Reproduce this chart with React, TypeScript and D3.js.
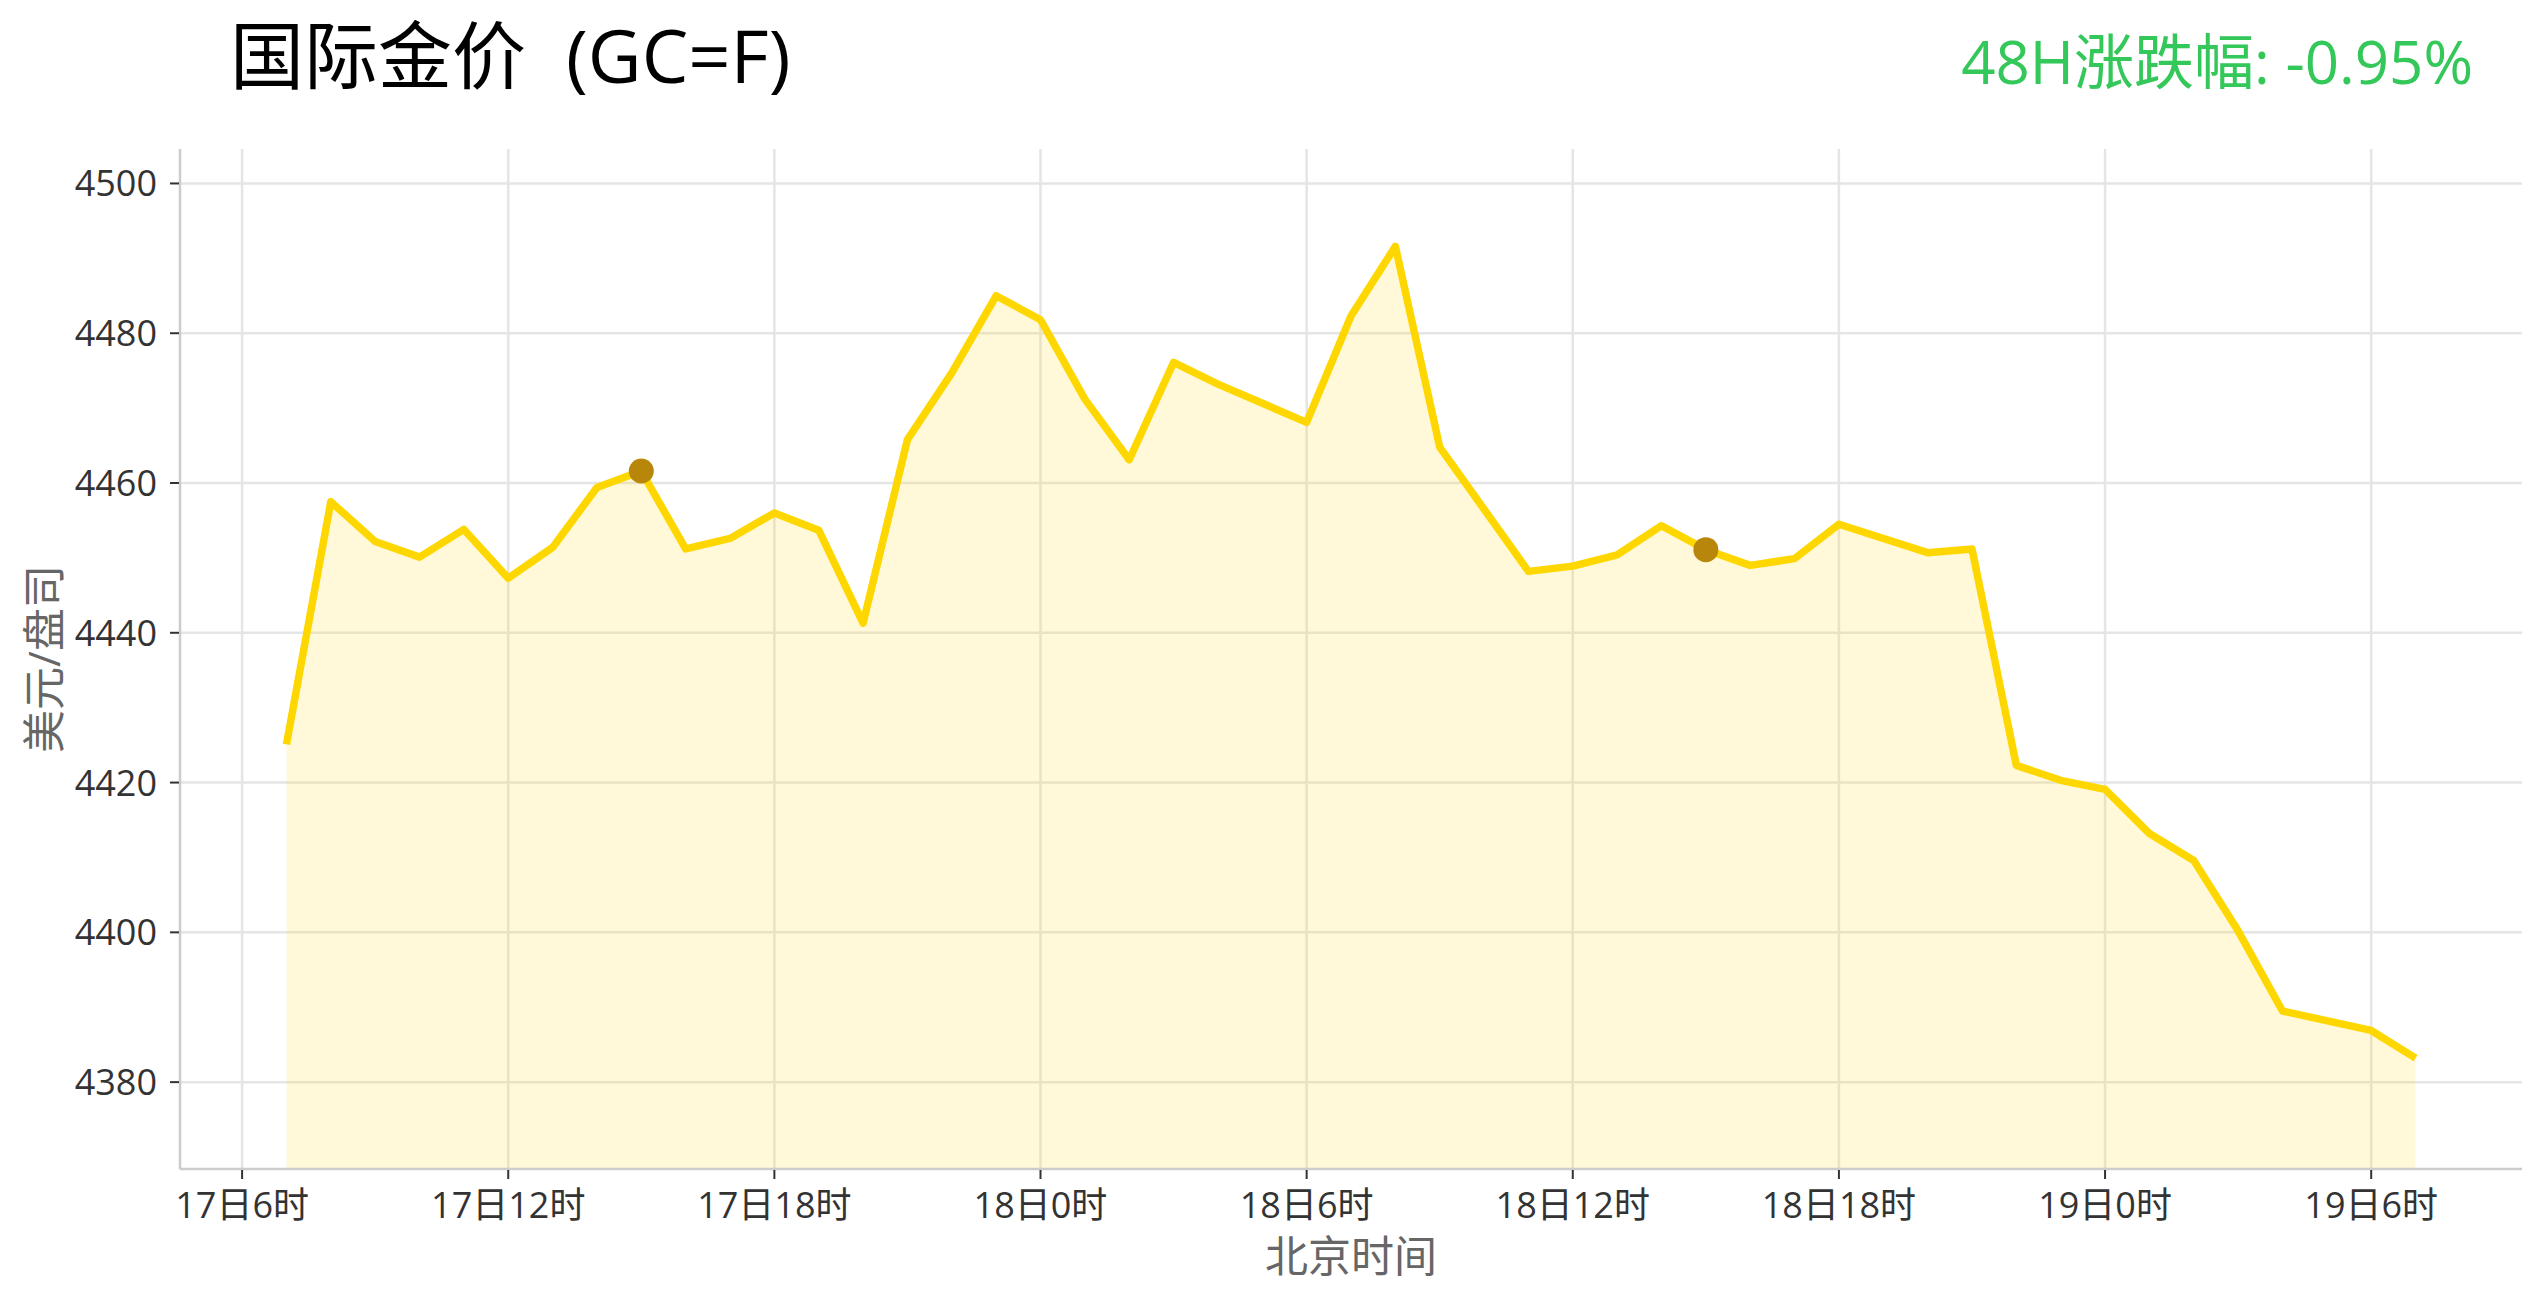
import React, { useEffect, useRef } from 'react';
import * as d3 from 'd3';

// hourly prices, Beijing time ("day hour")
const times = [
  '17 07', '17 08', '17 09', '17 10', '17 11', '17 12', '17 13', '17 14', '17 15', '17 16',
  '17 17', '17 18', '17 19', '17 20', '17 21', '17 22', '17 23', '18 00', '18 01', '18 02',
  '18 03', '18 04', '18 06', '18 07', '18 08', '18 09', '18 11', '18 12', '18 13', '18 14',
  '18 15', '18 16', '18 17', '18 18', '18 20', '18 21', '18 22', '18 23', '19 00', '19 01',
  '19 02', '19 03', '19 04', '19 06', '19 07'
];
const prices = [
  4425.1, 4457.5, 4452.2, 4450.1, 4453.8, 4447.3, 4451.4, 4459.4, 4461.6, 4451.2,
  4452.6, 4456.0, 4453.7, 4441.3, 4465.8, 4474.7, 4485.0, 4481.8, 4471.2, 4463.1,
  4476.1, 4473.2, 4468.1, 4482.3, 4491.6, 4464.8, 4448.2, 4448.9, 4450.4, 4454.3,
  4451.1, 4449.0, 4449.9, 4454.5, 4450.7, 4451.2, 4422.3, 4420.3, 4419.1, 4413.2,
  4409.6, 4400.2, 4389.5, 4386.9, 4383.2
];
const markerTimes = ['17 15', '18 15'];
const xTickTimes = ['17 06', '17 12', '17 18', '18 00', '18 06', '18 12', '18 18', '19 00', '19 06'];
const yTicks = [4380, 4400, 4420, 4440, 4460, 4480, 4500];
const xDomainTimes = ['17 04:36', '19 09:24'];
const yDomain = [4368.4, 4504.6];

const titleMain = '国际金价';
const titleCode = '(GC=F)';
const changeLabel = '48H涨跌幅: -0.95%';
const xLabel = '北京时间';
const yLabel = '美元/盘司';

const W = 2541;
const H = 1302;
const FONT = '"Open Sans", "Noto Sans CJK SC", sans-serif';

export default function App() {
  const svgRef = useRef<SVGSVGElement>(null);

  useEffect(() => {
    if (!svgRef.current) return;
    const svg = d3.select(svgRef.current);
    svg.selectAll('*').remove();

    const margin = { top: 149, right: W - 2522, bottom: H - 1169, left: 180 };
    const innerWidth = W - margin.left - margin.right;
    const innerHeight = H - margin.top - margin.bottom;

    const parseHour = d3.timeParse('%d %H');
    const parseMinute = d3.timeParse('%d %H:%M');

    const data = times.map((t, i) => ({ date: parseHour(t) as Date, value: prices[i] }));

    const xScale = d3
      .scaleTime()
      .domain(xDomainTimes.map(t => parseMinute(t) as Date))
      .range([0, innerWidth]);

    const yScale = d3.scaleLinear().domain(yDomain).range([innerHeight, 0]);

    const g = svg
      .append('g')
      .attr('transform', `translate(${margin.left},${margin.top})`);

    // Grid
    g.append('g')
      .selectAll('line')
      .data(yTicks)
      .enter()
      .append('line')
      .attr('x1', 0)
      .attr('x2', innerWidth)
      .attr('y1', d => yScale(d))
      .attr('y2', d => yScale(d))
      .attr('stroke', '#e5e5e5')
      .attr('stroke-width', 2.5);

    const xTicks = xTickTimes.map(t => parseHour(t) as Date);
    g.append('g')
      .selectAll('line')
      .data(xTicks)
      .enter()
      .append('line')
      .attr('x1', d => xScale(d))
      .attr('x2', d => xScale(d))
      .attr('y1', 0)
      .attr('y2', innerHeight)
      .attr('stroke', '#e5e5e5')
      .attr('stroke-width', 2.5);

    // Area + line
    const area = d3
      .area<{ date: Date; value: number }>()
      .x(d => xScale(d.date))
      .y0(innerHeight)
      .y1(d => yScale(d.value));

    g.append('path')
      .datum(data)
      .attr('d', area)
      .attr('fill', '#FFD700')
      .attr('fill-opacity', 0.15);

    const line = d3
      .line<{ date: Date; value: number }>()
      .x(d => xScale(d.date))
      .y(d => yScale(d.value));

    g.append('path')
      .datum(data)
      .attr('d', line)
      .attr('fill', 'none')
      .attr('stroke', '#FFD700')
      .attr('stroke-width', 7.5)
      .attr('stroke-linejoin', 'round')
      .attr('stroke-linecap', 'butt');

    // Highlight markers
    const markers = data.filter(d => markerTimes.includes(d3.timeFormat('%d %H')(d.date)));
    g.append('g')
      .selectAll('circle')
      .data(markers)
      .enter()
      .append('circle')
      .attr('cx', d => xScale(d.date))
      .attr('cy', d => yScale(d.value))
      .attr('r', 12.5)
      .attr('fill', '#B8860B');

    // Spines
    g.append('line')
      .attr('x1', 0)
      .attr('x2', 0)
      .attr('y1', 0)
      .attr('y2', innerHeight)
      .attr('stroke', '#cccccc')
      .attr('stroke-width', 2.5);
    g.append('line')
      .attr('x1', 0)
      .attr('x2', innerWidth)
      .attr('y1', innerHeight)
      .attr('y2', innerHeight)
      .attr('stroke', '#cccccc')
      .attr('stroke-width', 2.5);

    // Y ticks
    const yAxis = g.append('g');
    yTicks.forEach(v => {
      const y = yScale(v);
      yAxis
        .append('line')
        .attr('x1', -10)
        .attr('x2', -1)
        .attr('y1', y)
        .attr('y2', y)
        .attr('stroke', '#333333')
        .attr('stroke-width', 2);
      yAxis
        .append('text')
        .attr('x', -23)
        .attr('y', y)
        .attr('dy', '0.36em')
        .attr('text-anchor', 'end')
        .style('font-family', FONT)
        .style('font-size', '36px')
        .style('fill', '#333333')
        .text(v);
    });

    // X ticks
    const xAxis = g.append('g');
    const fmtTick = (d: Date) => `${d.getDate()}日${d.getHours()}时`;
    xTicks.forEach(d => {
      const x = xScale(d);
      xAxis
        .append('line')
        .attr('x1', x)
        .attr('x2', x)
        .attr('y1', innerHeight + 1)
        .attr('y2', innerHeight + 10)
        .attr('stroke', '#333333')
        .attr('stroke-width', 2);
      xAxis
        .append('text')
        .attr('x', x)
        .attr('y', innerHeight + 49)
        .attr('text-anchor', 'middle')
        .style('font-family', FONT)
        .style('font-size', '36px')
        .style('fill', '#333333')
        .text(fmtTick(d));
    });

    // Axis labels
    g.append('text')
      .attr('x', innerWidth / 2)
      .attr('y', innerHeight + 103)
      .attr('text-anchor', 'middle')
      .style('font-family', FONT)
      .style('font-size', '43px')
      .style('fill', '#666666')
      .text(xLabel);

    svg
      .append('text')
      .attr('transform', `translate(60,${margin.top + innerHeight / 2}) rotate(-90)`)
      .attr('text-anchor', 'middle')
      .style('font-family', FONT)
      .style('font-size', '43px')
      .style('fill', '#666666')
      .text(yLabel);

    // Title and change
    const titleText = svg
      .append('text')
      .attr('x', 230)
      .attr('y', 83)
      .style('font-family', FONT)
      .style('font-size', '74px')
      .style('fill', '#000000');
    titleText.append('tspan').text(titleMain);
    titleText.append('tspan').attr('dx', 40).text(titleCode);

    svg
      .append('text')
      .attr('x', 2473)
      .attr('y', 84)
      .attr('text-anchor', 'end')
      .style('font-family', FONT)
      .style('font-size', '60px')
      .style('fill', '#34C759')
      .text(changeLabel);
  }, []);

  return (
    <svg
      ref={svgRef}
      width={W}
      height={H}
      style={{ position: 'absolute', left: 0, top: 0, background: '#ffffff' }}
    />
  );
}
